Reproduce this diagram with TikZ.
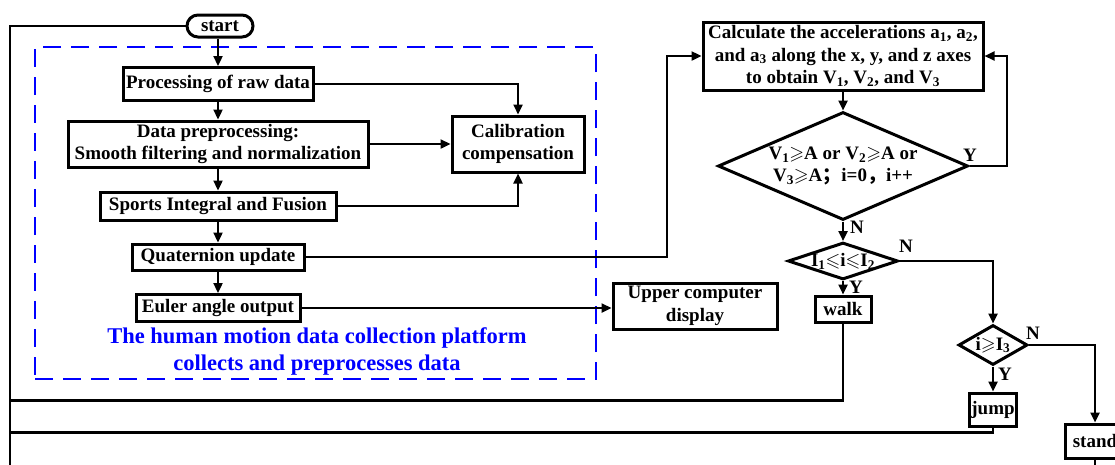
\documentclass[tikz,border=0pt]{standalone}
\usepackage{fontspec}
\usepackage{amssymb}
\setmainfont{Liberation Serif}
\newfontfamily\cjk{Noto Sans CJK SC}
\usetikzlibrary{arrows.meta,shapes.geometric}

\begin{document}
\begin{tikzpicture}[x=1pt,y=-1pt,
  font=\fontsize{19}{22.5}\selectfont\bfseries,
  box/.style={draw, line width=3pt, inner sep=0pt, align=center},
  startbox/.style={draw, line width=3pt, rounded corners=11pt, inner sep=0pt,
                   minimum width=66pt, minimum height=22pt},
  dia/.style={draw, diamond, line width=3pt, inner sep=0pt},
  conn/.style={line width=2.3pt, -{Triangle[length=10pt,width=9pt]}},
  wire/.style={line width=2.3pt},
  lbl/.style={inner sep=0pt},
  platformbox/.style={draw=blue, line width=2.8pt, dash pattern=on 18pt off 10pt}
]
\useasboundingbox (0,0) rectangle (1115,464);
\clip (0,0) rectangle (1115,464);

% collection platform
\node[platformbox, minimum width=561pt, minimum height=332pt] (platform) at (315.5,213) {};
\node[text=blue, align=center, inner sep=0pt, font=\fontsize{22.5}{27}\selectfont\bfseries]
  (platlabel) at (317,351) {The human motion data collection platform\\collects and preprocesses data};

% preprocessing chain
\node[startbox] (start) at (220,26) {start};
\node[box, minimum width=190pt, minimum height=33pt] (raw) at (218,84) {Processing of raw data};
\node[box, minimum width=300pt, minimum height=46pt] (prep) at (218,144)
  {Data preprocessing:\\Smooth filtering and normalization};
\node[box, minimum width=236pt, minimum height=28pt] (fus) at (218,206) {Sports Integral and Fusion};
\node[box, minimum width=172pt, minimum height=26pt] (quat) at (218,257) {Quaternion update};
\node[box, minimum width=164pt, minimum height=27pt] (euler) at (218,308) {Euler angle output};
\node[box, minimum width=132pt, minimum height=56pt] (cal) at (518,144) {Calibration\\compensation};
\node[box, minimum width=164pt, minimum height=46pt] (disp) at (695,306) {Upper computer\\display};

% motion recognition
\node[box, minimum width=280pt, minimum height=68pt] (calc) at (843,56)
  {Calculate the accelerations a\textsubscript{1}, a\textsubscript{2},\\
   and a\textsubscript{3} along the x, y, and z axes\\
   to obtain V\textsubscript{1}, V\textsubscript{2}, and V\textsubscript{3}};
\node[dia, minimum width=250pt, minimum height=108pt,
  label={[align=center, inner sep=0pt]center:{V\textsubscript{1}$\geqslant$A or V\textsubscript{2}$\geqslant$A or\\
   V\textsubscript{3}$\geqslant$A{\cjk ；}i=0{\cjk ，}i++}}] (d1) at (843,166) {};
\node[dia, minimum width=110pt, minimum height=37pt,
  label={[inner sep=0pt]center:{I\textsubscript{1}$\leqslant$i$\leqslant$I\textsubscript{2}}}] (d2) at (843,261) {};
\node[box, minimum width=56pt, minimum height=26pt] (walk) at (843,309) {walk};
\node[dia, minimum width=69pt, minimum height=40pt,
  label={[inner sep=0pt]center:{i$\geqslant$I\textsubscript{3}}}] (d3) at (993,345) {};
\node[box, minimum width=47pt, minimum height=33pt] (jump) at (993,409.5) {jump};
\node[box, minimum width=60pt, minimum height=34pt] (stand) at (1095,441) {stand};

% branch labels
\node[lbl] (d1y) at (970,155) {Y};
\node[lbl] (d1n) at (857,227) {N};
\node[lbl] (d2n) at (906,246) {N};
\node[lbl] (d2y) at (856,287) {Y};
\node[lbl] (d3n) at (1033,333) {N};
\node[lbl] (d3y) at (1005,374) {Y};

% turning points
\coordinate (qturn) at (667,257);
\coordinate (yturn) at (1007,166);
\coordinate (loopend) at (10,470);
\coordinate (walkret) at (10,400.5);
\coordinate (jumpret) at (10,432.5);
\coordinate (standout) at (1095,470);

% connectors
\draw[conn] (raw.north |- start.south) -- (raw.north);
\draw[conn] (raw) -- (prep);
\draw[conn] (prep) -- (fus);
\draw[conn] (fus) -- (quat);
\draw[conn] (quat) -- (euler);
\draw[conn] (raw.east) -| (cal.north);
\draw[conn] (prep.east) -- (cal.west);
\draw[conn] (fus.east) -| (cal.south);
\draw[conn] (quat.east) -- (qturn) |- (calc.west);
\draw[conn] (euler.east) -- (euler.east -| disp.west);
\draw[conn] (calc) -- (d1);
\draw[conn] (d1.east) -- (yturn) |- (calc.east);
\draw[conn] (d1) -- (d2);
\draw[conn] (d2.east) -| (d3.north);
\draw[conn] (d2) -- (walk);
\draw[conn] (d3.east) -| (stand.north);
\draw[conn] (d3) -- (jump);
\draw[wire] (start.west) -| (loopend);
\draw[wire] (walk.south) |- (walkret);
\draw[wire] (jump.south) |- (jumpret);
\draw[wire] (stand.south) -- (standout);
\end{tikzpicture}
\end{document}
